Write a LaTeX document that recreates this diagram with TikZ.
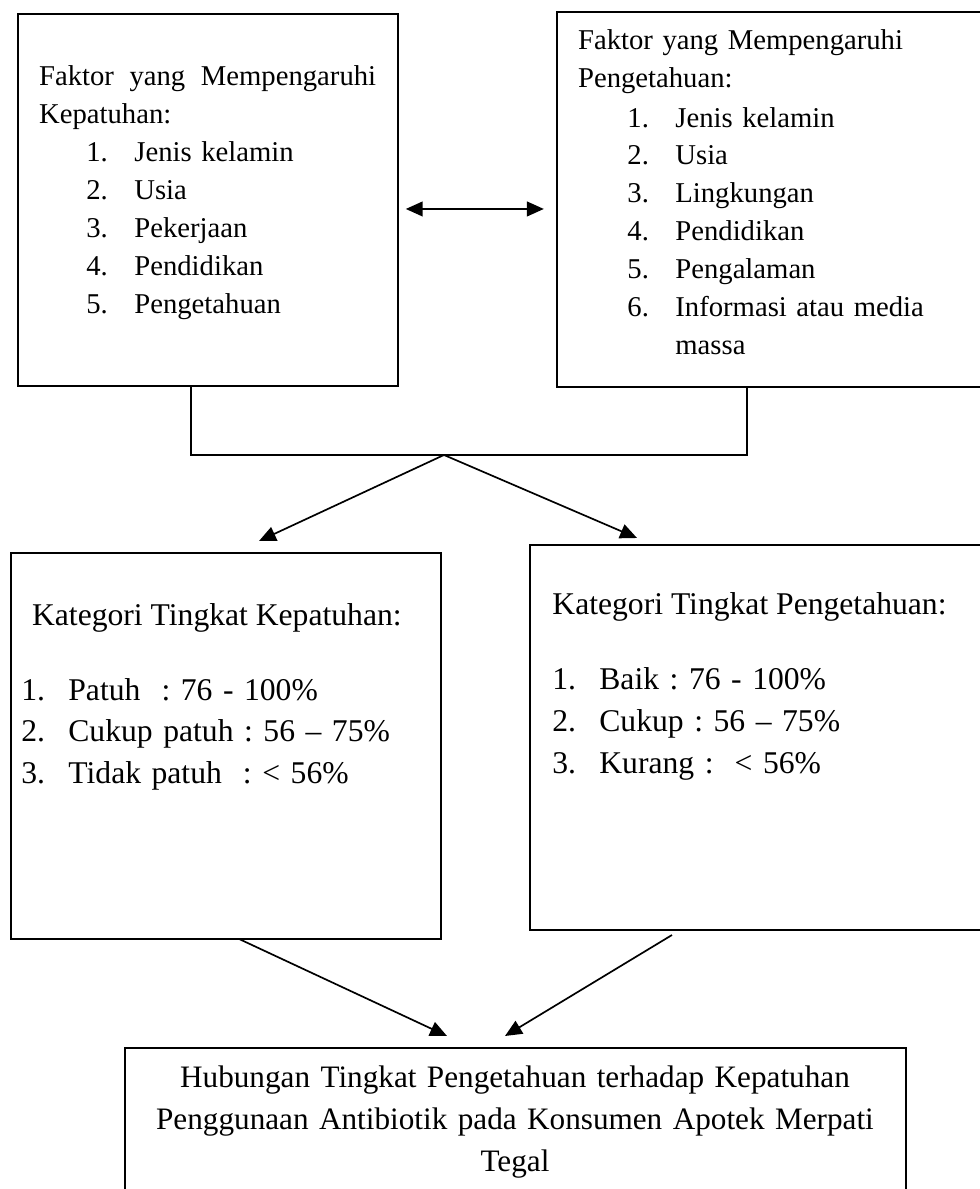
\documentclass[tikz,border=0pt]{standalone}
\usepackage{fontspec}
\setmainfont{Liberation Serif}
\usetikzlibrary{arrows.meta, positioning, calc}
\frenchspacing

\begin{document}
\begin{tikzpicture}[
        box/.style={draw, line width=0.7pt, inner sep=0pt, outer sep=0pt},
        txt/.style={inner sep=0pt, anchor=base west, font=\fontsize{13.6}{18}\selectfont},
        lst/.style={inner sep=0pt, anchor=base west, font=\fontsize{15}{19.7}\selectfont},
        arr/.style={line width=0.8pt, -{Triangle[length=8pt, width=7pt]}},
        dblarr/.style={line width=0.8pt, {Triangle[length=8pt, width=7pt]}-{Triangle[length=8pt, width=7pt]}}
      ]
        \useasboundingbox (0,0) rectangle (16.333,-19.817);
        % kotak faktor
        \node[box, minimum width=6.333cm, minimum height=6.2cm] (kepBox) at (3.467,-3.333) {};
        \node[box, minimum width=7.383cm, minimum height=6.25cm] (pengBox) at (12.975,-3.325) {};
        \node[txt, text width=5.617cm, align=justify] (kepTitle) at (0.645,-1.433) {Faktor yang Mempengaruhi Kepatuhan:};
        \node[txt, text width=5cm, align=left] (kepList) at (1.433,-2.7)
          {\makebox[0.8cm][l]{1.}Jenis kelamin\\ \makebox[0.8cm][l]{2.}Usia\\ \makebox[0.8cm][l]{3.}Pekerjaan\\
           \makebox[0.8cm][l]{4.}Pendidikan\\ \makebox[0.8cm][l]{5.}Pengetahuan};
        \node[txt, text width=6.5cm, align=left] (pengTitle) at (9.628,-0.833) {Faktor yang Mempengaruhi\\ Pengetahuan:};
        \node[txt, text width=5.8cm, align=left] (pengList) at (10.45,-2.117)
          {\makebox[0.8cm][l]{1.}Jenis kelamin\\ \makebox[0.8cm][l]{2.}Usia\\ \makebox[0.8cm][l]{3.}Lingkungan\\
           \makebox[0.8cm][l]{4.}Pendidikan\\ \makebox[0.8cm][l]{5.}Pengalaman\\
           \makebox[0.8cm][l]{6.}Informasi atau media\\ \hspace*{0.8cm}massa};
        \draw[dblarr, shorten <=0.13cm, shorten >=0.22cm] ([yshift=-0.15cm]kepBox.east) -- ([yshift=-0.15cm]kepBox.east -| pengBox.west);
        % gabungan
        \coordinate (join) at (7.4,-7.583);
        \draw[line width=0.8pt] ([xshift=-0.283cm]kepBox.south) |- (join) -| ([xshift=-0.525cm]pengBox.south);
        % kotak kategori
        \node[box, minimum width=7.167cm, minimum height=6.433cm] (katKepBox) at (3.767,-12.433) {};
        \node[box, minimum width=7.833cm, minimum height=6.417cm] (katPengBox) at (12.75,-12.292) {};
        \draw[arr] (join) -- ([xshift=0.55cm, yshift=0.2cm]katKepBox.north);
        \draw[arr] (join) -- ([xshift=-2.133cm, yshift=0.117cm]katPengBox.north);
        \node[lst] (katKepTitle) at (0.528,-10.417) {Kategori Tingkat Kepatuhan:};
        \node[lst, text width=6.8cm, align=left] (katKepList) at (0.35,-11.667)
          {\makebox[0.783cm][l]{1.}Patuh\ \ : 76 - 100\%\\ \makebox[0.783cm][l]{2.}Cukup patuh : 56 – 75\%\\
           \makebox[0.783cm][l]{3.}Tidak patuh\ \ : < 56\%};
        \node[lst] (katPengTitle) at (9.2,-10.25) {Kategori Tingkat Pengetahuan:};
        \node[lst, text width=6.8cm, align=left] (katPengList) at (9.2,-11.5)
          {\makebox[0.783cm][l]{1.}Baik : 76 - 100\%\\ \makebox[0.783cm][l]{2.}Cukup : 56 – 75\%\\
           \makebox[0.783cm][l]{3.}Kurang :\ \ < 56\%};
        % hubungan
        \node[box, minimum width=13.017cm, minimum height=2.733cm] (hubBox) at (8.592,-18.833) {};
        \node[lst, anchor=base, text width=13cm, align=center, font=\fontsize{14.8}{19.9}\selectfont] (hubText) at (8.583,-18.133)
          {Hubungan Tingkat Pengetahuan terhadap Kepatuhan\\ Penggunaan Antibiotik pada Konsumen Apotek Merpati\\ Tegal};
        \draw[arr] ([xshift=0.217cm]katKepBox.south) -- ([xshift=-1.142cm, yshift=0.2cm]hubBox.north);
        \draw[arr] ([xshift=-1.55cm, yshift=-0.083cm]katPengBox.south) -- ([xshift=-0.175cm, yshift=0.2cm]hubBox.north);
      \end{tikzpicture}
\end{document}
